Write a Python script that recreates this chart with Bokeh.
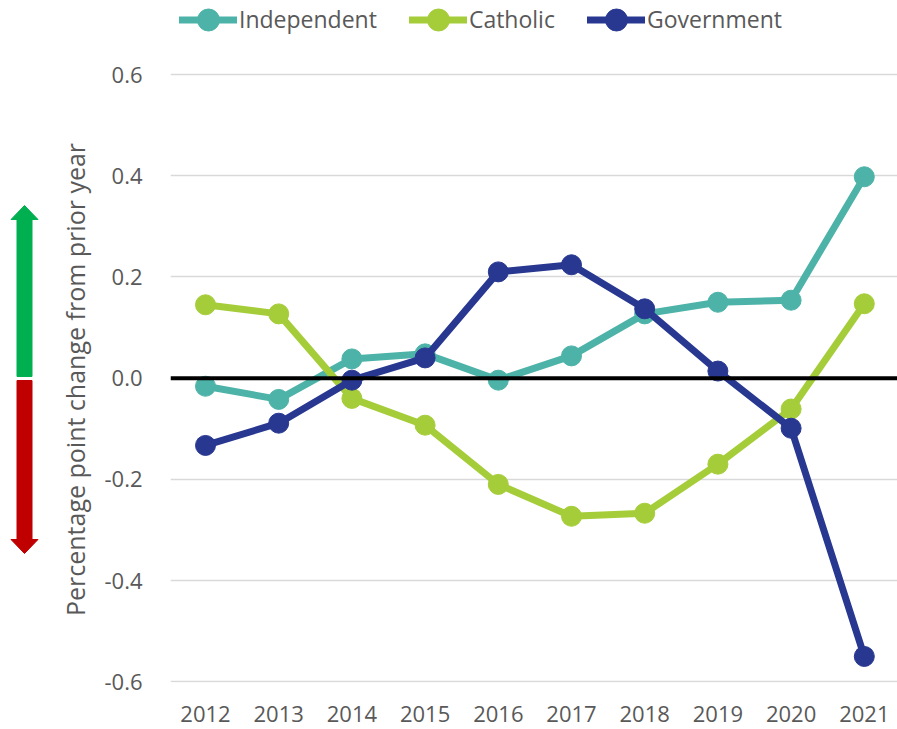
import math
from bokeh.plotting import figure
from bokeh.layouts import row
from bokeh.models import Span, Legend, LegendItem, FixedTicker, Range1d, PrintfTickFormatter
from bokeh.core.properties import value
from bokeh.embed import file_html
from bokeh.resources import INLINE

years = [2012, 2013, 2014, 2015, 2016, 2017, 2018, 2019, 2020, 2021]
independent = [-0.016, -0.042, 0.038, 0.048, -0.004, 0.044, 0.127, 0.150, 0.154, 0.398]
catholic = [0.145, 0.127, -0.040, -0.093, -0.210, -0.273, -0.267, -0.170, -0.061, 0.147]
government = [-0.133, -0.089, -0.004, 0.040, 0.210, 0.224, 0.137, 0.014, -0.099, -0.550]
y_ticks = [-0.6, -0.4, -0.2, 0.0, 0.2, 0.4, 0.6]
series_names = ["Independent", "Catholic", "Government"]
series_colors = ["#4DB3A8", "#A5CD39", "#283891"]
y_title = "Percentage point change from prior year"

FONT = "Open Sans"
TXT = "#595959"

W, H = 897, 729
DECO_W = 100
FRAME_LEFT = 170          # page x of plot frame's left edge
FRAME_BOTTOM = 682        # page y of plot frame's bottom edge (-0.6)
PX_PER_YEAR = 73.2
PX_PER_UNIT = 506.0
FIRST_X = 205             # page x of first category centre

main_w = W - DECO_W
frame_h = FRAME_BOTTOM
x0 = years[0] - (FIRST_X - FRAME_LEFT) / PX_PER_YEAR
x1 = x0 + (W - FRAME_LEFT) / PX_PER_YEAR
y0 = -0.6015
y1 = y0 + frame_h / PX_PER_UNIT

p = figure(width=main_w, height=H, output_backend="svg", toolbar_location=None,
           x_range=Range1d(x0, x1), y_range=Range1d(y0, y1),
           min_border_left=FRAME_LEFT - DECO_W, min_border_right=0, min_border_top=0,
           min_border_bottom=H - FRAME_BOTTOM)
p.outline_line_color = None
p.xgrid.grid_line_color = None
p.ygrid.ticker = FixedTicker(ticks=y_ticks)
p.ygrid.grid_line_color = "#D9D9D9"
p.ygrid.grid_line_width = 1.5

p.xaxis.ticker = FixedTicker(ticks=years)
p.yaxis.ticker = FixedTicker(ticks=y_ticks)
p.yaxis.formatter = PrintfTickFormatter(format="%.1f")
for ax in (p.xaxis[0], p.yaxis[0]):
    ax.axis_line_color = None
    ax.major_tick_line_color = None
    ax.minor_tick_line_color = None
    ax.major_label_text_font = FONT
    ax.major_label_text_font_size = "22px"
    ax.major_label_text_color = TXT
p.xaxis.major_label_standoff = 17
p.yaxis.major_label_standoff = 22

p.add_layout(Span(location=0, dimension="width", line_color="black", line_width=4))

items = []
for name, vals, col in zip(series_names, [independent, catholic, government], series_colors):
    ln = p.line(years, vals, line_color=col, line_width=7, line_cap="round", line_join="round")
    sc = p.scatter(years, vals, size=20, marker="circle", fill_color=col, line_color=col)
    items.append(LegendItem(label=name, renderers=[ln, sc]))

GH = 55
legend = Legend(items=items, orientation="horizontal", location=(9, frame_h - 19 - GH / 2),
                glyph_width=58, glyph_height=GH, label_height=GH, label_standoff=2, spacing=32,
                padding=0, margin=0, border_line_color=None, background_fill_alpha=0,
                label_text_font=FONT, label_text_font_size="23px", label_text_color=TXT)
p.add_layout(legend, "center")

# left decoration strip: axis title and the green/red direction arrows (pixel space).
# Its frame is aligned with the main plot frame (page y 0 .. FRAME_BOTTOM).
deco = figure(width=DECO_W, height=H, output_backend="svg", toolbar_location=None,
              x_range=Range1d(0, DECO_W), y_range=Range1d(FRAME_BOTTOM, 0),
              x_axis_location=None, y_axis_location=None,
              min_border_left=0, min_border_right=0, min_border_top=0,
              min_border_bottom=H - FRAME_BOTTOM)
deco.outline_line_color = None
deco.grid.visible = False


def arrow_shape(cx, tail, tip, shaft_half=7.5, head_half=13.5, head_len=14):
    sgn = 1 if tip > tail else -1
    base = tip - sgn * head_len
    xs = [cx - shaft_half, cx + shaft_half, cx + shaft_half, cx + head_half, cx, cx - head_half, cx - shaft_half]
    ys = [tail, tail, base, base, tip, base, base]
    return xs, ys


gx, gy = arrow_shape(24, 376, 205)
rx, ry = arrow_shape(24, 380, 553)
deco.patches([gx, rx], [gy, ry], fill_color=["#00B050", "#C00000"], line_color=["#00B050", "#C00000"])
deco.text(x=[74], y=[379], text=[y_title], angle=math.pi / 2, text_align="center",
          text_baseline="middle", text_font=value(FONT), text_font_size="25px", text_color=TXT)

layout = row(deco, p)
open("out.html", "w").write(file_html(layout, INLINE))
